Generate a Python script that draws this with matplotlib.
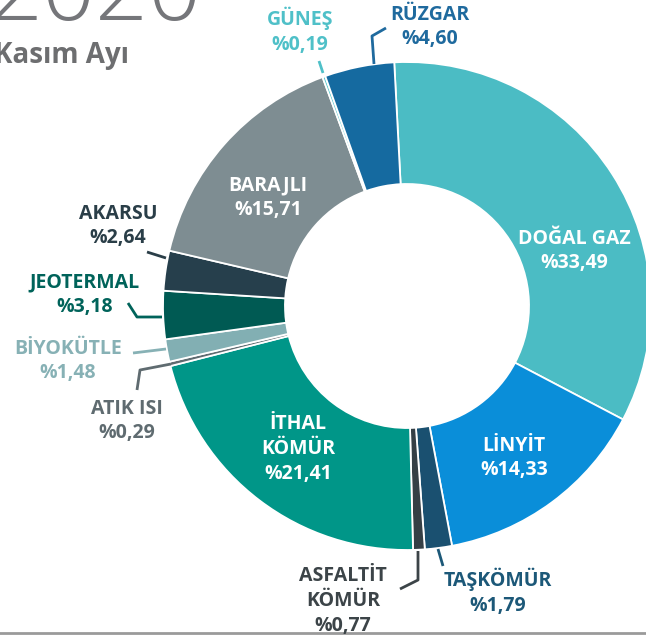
import matplotlib
matplotlib.use("Agg")
import matplotlib.pyplot as plt
import numpy as np

# ---- data ----
categories = ["DOĞAL GAZ", "LİNYİT", "TAŞKÖMÜR", "ASFALTİT\nKÖMÜR", "İTHAL\nKÖMÜR",
              "ATIK ISI", "BİYOKÜTLE", "JEOTERMAL", "AKARSU", "BARAJLI", "GÜNEŞ", "RÜZGAR"]
values = [33.49, 14.33, 1.79, 0.77, 21.41, 0.29, 1.48, 3.18, 2.64, 15.71, 0.19, 4.60]
value_labels = ["%33,49", "%14,33", "%1,79", "%0,77", "%21,41", "%0,29", "%1,48",
                "%3,18", "%2,64", "%15,71", "%0,19", "%4,60"]
title = "2020"
subtitle = "Kasım Ayı"

# ---- styles ----
colors = ["#4bbcc4", "#0a8ed9", "#1a5070", "#353f45", "#009688", "#5f6b70",
          "#82afb3", "#005a53", "#263f4c", "#7e8d92", "#5bc8cf", "#156aa0"]
text_colors = ["white", "white", "#1c5878", "#3c4448", "white", "#5f6b70",
               "#87b1b5", "#00635a", "#2a3e48", "white", "#4fc0c8", "#1f6a9e"]

W, H = 646, 638
cx, cy_down, R = 407, 306, 244

def Y(y):
    return H - y

# label positions (pixel coords, y downward) - layout only
label_pos = {
    "DOĞAL GAZ": (574, 251), "LİNYİT": (514, 458), "TAŞKÖMÜR": (498, 592),
    "ASFALTİT\nKÖMÜR": (343, 601), "İTHAL\nKÖMÜR": (298, 449), "ATIK ISI": (127, 421),
    "BİYOKÜTLE": (68, 361), "JEOTERMAL": (85, 295), "AKARSU": (118, 226),
    "BARAJLI": (268, 198), "GÜNEŞ": (300, 31), "RÜZGAR": (430, 27),
}
# leader lines (pixel coords, y downward)
leaders = {
    "GÜNEŞ": [(323, 73), (319, 61)],
    "RÜZGAR": [(374, 64), (372, 36), (386, 28)],
    "AKARSU": [(166, 258), (147, 252)],
    "JEOTERMAL": [(162, 317), (137, 317), (128, 303)],
    "BİYOKÜTLE": [(166, 349), (133, 353)],
    "ATIK ISI": [(171, 364), (140, 370), (137, 390)],
    "ASFALTİT\nKÖMÜR": [(418, 551), (418, 580), (400, 589)],
    "TAŞKÖMÜR": [(438, 549), (443, 566)],
}

plt.rcParams['font.family'] = ['Open Sans', 'DejaVu Sans']

fig = plt.figure(figsize=(W / 100, H / 100), dpi=100)
ax = fig.add_axes([0, 0, 1, 1])
ax.set_xlim(0, W)
ax.set_ylim(0, H)
ax.set_aspect('equal')
ax.axis('off')

ax.pie(values, colors=colors, startangle=93, counterclock=False,
       center=(cx, Y(cy_down)), radius=R,
       wedgeprops=dict(width=R / 2, edgecolor='white', linewidth=1.3),
       frame=True)
ax.set_xlim(0, W)
ax.set_ylim(0, H)
ax.axis('off')

for cat, val, col in zip(categories, value_labels, text_colors):
    x, y = label_pos[cat]
    ax.text(x, Y(y), cat + "\n" + val, ha='center', va='center', color=col,
            fontsize=14, fontweight='bold', linespacing=1.32)
    if cat in leaders:
        pts = leaders[cat]
        ax.plot([p[0] for p in pts], [Y(p[1]) for p in pts], color=col,
                lw=2, solid_capstyle='butt')

ax.text(-10, Y(20), title, ha='left', va='baseline', color='#75767a',
        fontsize=67, fontweight='light')
ax.text(-6, Y(63), subtitle, ha='left', va='baseline', color='#6d6e70',
        fontsize=20, fontweight='bold')

ax.plot([0, W], [Y(633), Y(633)], color='#9a9a9a', lw=2)

fig.savefig("out.png", dpi=100)
